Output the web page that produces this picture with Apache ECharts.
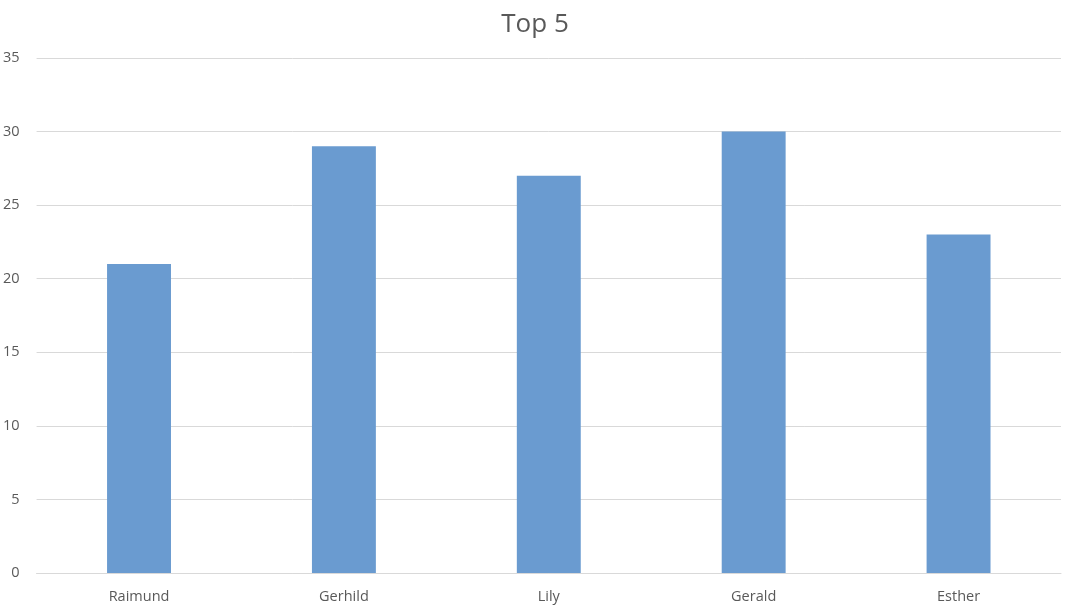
<!DOCTYPE html>
<html>
<head>
<meta charset="utf-8">
<script src="https://cdn.jsdelivr.net/npm/echarts@6/dist/echarts.min.js"></script>
<style>
    html, body { margin: 0; padding: 0; background: #fff; }
    #chart { width: 1070px; height: 611px; }
</style>
</head>
<body>
<div id="chart"></div>
<script>
// 数据
const names = ['Raimund', 'Gerhild', 'Lily', 'Gerald', 'Esther']
const scores = [21, 29, 27, 30, 23]

const myChart = echarts.init(document.getElementById('chart'))
const option = {
    animation: false,
    title: {
        text: 'Top 5',
        left: 'center',
        top: 7,
        textStyle: { fontFamily: 'Open Sans', fontSize: 26, fontWeight: 'normal', color: '#595959' },
    },
    grid: { left: 36, right: 9, top: 58, bottom: 38 },
    xAxis: {
        type: 'category',
        data: names,
        axisTick: { show: false },
        axisLine: { lineStyle: { color: '#d9d9d9', width: 1 } },
        axisLabel: { color: '#595959', fontSize: 14.5, fontFamily: 'Open Sans', margin: 16 },
    },
    yAxis: {
        type: 'value',
        min: 0,
        max: 35,
        interval: 5,
        axisLine: { show: false },
        axisTick: { show: false },
        splitLine: { lineStyle: { color: '#d9d9d9', width: 1 } },
        axisLabel: { color: '#595959', fontSize: 14.5, fontFamily: 'Open Sans', margin: 17 },
    },
    series: [
        {
            type: 'bar',
            data: scores,
            barWidth: '31.2%',
            itemStyle: { color: '#6a9bd0' },
        },
    ],
}
myChart.setOption(option)
</script>
</body>
</html>
